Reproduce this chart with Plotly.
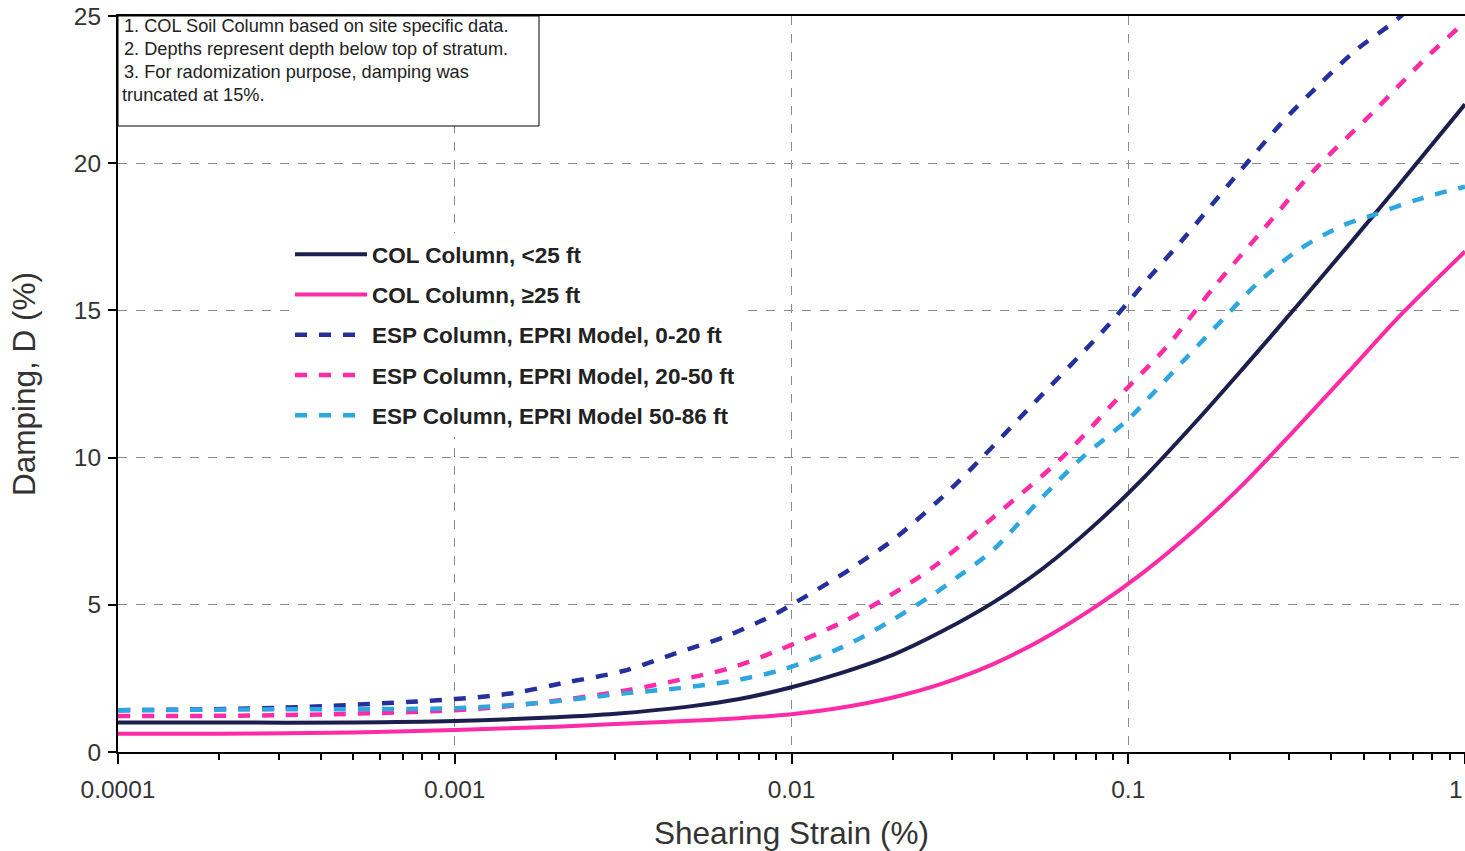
import plotly.graph_objects as go

# ---- data ----
col_lt25_strain = [1e-4, 2e-4, 5e-4, 1e-3, 2e-3, 3e-3, 5e-3, 7e-3, 0.01, 0.014, 0.02, 0.028, 0.04, 0.056,
                   0.08, 0.11, 0.16, 0.22, 0.31, 0.45, 0.63, 1.0]
col_lt25_damp   = [1.0, 1.0, 1.0, 1.05, 1.18, 1.3, 1.55, 1.8, 2.2, 2.68, 3.3, 4.1, 5.1, 6.25,
                   7.74, 9.26, 11.26, 13.05, 15.02, 17.2, 19.2, 22.0]

col_ge25_strain = [1e-4, 2e-4, 5e-4, 1e-3, 2e-3, 3e-3, 5e-3, 7e-3, 0.01, 0.014, 0.02, 0.028, 0.04, 0.056,
                   0.08, 0.11, 0.16, 0.22, 0.31, 0.45, 0.63, 1.0]
col_ge25_damp   = [0.62, 0.62, 0.66, 0.75, 0.86, 0.95, 1.06, 1.15, 1.28, 1.5, 1.85, 2.32, 3.0, 3.85,
                   4.94, 6.07, 7.62, 9.11, 10.9, 12.9, 14.73, 17.0]

esp020_strain = [1e-4, 3e-4, 1e-3, 1.49e-3, 2.09e-3, 3.16e-3, 4.55e-3, 6.42e-3, 8.82e-3, 0.0102, 0.0139, 0.0163,
                 0.02, 0.028, 0.0368, 0.05, 0.0865, 0.113, 0.145, 0.203, 0.287, 0.364, 0.47, 0.63, 1.0]
esp020_damp   = [1.42, 1.5, 1.8, 2.0, 2.34, 2.75, 3.36, 3.94, 4.65, 5.06, 5.98, 6.5,
                 7.2, 8.65, 10.0, 11.6, 14.45, 16.0, 17.4, 19.4, 21.4, 22.6, 23.8, 24.9, 27.0]

esp2050_strain = [1e-4, 3e-4, 1e-3, 1.75e-3, 3.26e-3, 4.65e-3, 6.57e-3, 9.2e-3, 0.0141, 0.0193, 0.0265,
                  0.04, 0.0636, 0.1, 0.13, 0.18, 0.254, 0.362, 0.53, 0.77, 1.0]
esp2050_damp   = [1.22, 1.25, 1.42, 1.66, 2.1, 2.45, 2.85, 3.47, 4.4, 5.27, 6.3,
                  8.0, 10.0, 12.4, 13.76, 15.8, 17.8, 19.84, 21.7, 23.6, 24.8]

esp5086_strain = [1e-4, 3e-4, 1e-3, 1.75e-3, 3.26e-3, 4.65e-3, 6.57e-3, 9.4e-3, 0.0142, 0.0195, 0.0267, 0.0316,
                  0.04, 0.055, 0.073, 0.1, 0.116, 0.149, 0.191, 0.241, 0.32, 0.437, 0.533, 0.74, 1.0]
esp5086_damp   = [1.42, 1.45, 1.49, 1.66, 2.0, 2.17, 2.4, 2.8, 3.57, 4.42, 5.4, 6.0,
                  6.9, 8.6, 10.0, 11.3, 12.07, 13.4, 14.7, 15.9, 17.05, 17.9, 18.24, 18.8, 19.2]

x_tick_vals = [1e-4, 1e-3, 1e-2, 1e-1, 1]
x_tick_text = ["0.0001", "0.001", "0.01", "0.1", ""]
x_last_label = "1"
y_tick_vals = [0, 5, 10, 15, 20, 25]
note_lines = [
    "1. COL Soil Column based on site specific data.",
    "2. Depths represent depth below top of stratum.",
    "3. For radomization purpose, damping was",
    "truncated at 15%.",
]

NAVY = "#1c1f4e"
PINK = "#ff2aa6"
BLUE = "#26309c"
LBLUE = "#2ea6e0"

series = [
    ("COL Column, <25 ft", col_lt25_strain, col_lt25_damp, NAVY, "solid"),
    ("COL Column, \u226525 ft", col_ge25_strain, col_ge25_damp, PINK, "solid"),
    ("ESP Column, EPRI Model, 0-20 ft", esp020_strain, esp020_damp, BLUE, "12px,12px"),
    ("ESP Column, EPRI Model, 20-50 ft", esp2050_strain, esp2050_damp, PINK, "12px,12px"),
    ("ESP Column, EPRI Model 50-86 ft", esp5086_strain, esp5086_damp, LBLUE, "12px,12px"),
]

fig = go.Figure()
for i, (name, xs, ys, col, dash) in enumerate(series):
    fig.add_trace(go.Scatter(
        x=xs, y=ys, name=name, mode="lines",
        line=dict(color=col, width=4 if dash == "solid" else 4.5, dash=dash, shape="spline", smoothing=0.9),
        legendgroup=f"g{i}",
    ))

minor_vals = []
for d in [1e-4, 1e-3, 1e-2, 1e-1]:
    for k in range(2, 10):
        minor_vals.append(d * k)

fig.update_layout(
    width=1465, height=851,
    margin=dict(l=118, r=0, t=16, b=99),
    plot_bgcolor="white", paper_bgcolor="white",
    font=dict(family="Arial, Liberation Sans, sans-serif", color="#333333"),
    showlegend=True,
    legend=dict(
        x=(290 - 118) / 1347, y=(752 - 233) / 736, xanchor="left", yanchor="top",
        bgcolor="white", borderwidth=0,
        font=dict(size=22.5, color="#222222", family="Arial, Liberation Sans, sans-serif", weight="bold"),
        tracegroupgap=8, traceorder="grouped",
        itemwidth=72,
    ),
    xaxis=dict(
        type="log", range=[-4, 0], automargin=False,
        tickvals=x_tick_vals, ticktext=x_tick_text,
        tickfont=dict(size=24.5, color="#333333"),
        ticklabelstandoff=5,
        ticks="outside", ticklen=10, tickwidth=2, tickcolor="black",
        showline=True, linecolor="black", linewidth=2, mirror=True,
        showgrid=True, gridcolor="#8a8a8a", gridwidth=1, griddash="dash",
        minor=dict(tickvals=minor_vals, ticks="outside", ticklen=6, tickwidth=2, tickcolor="black", showgrid=False),
        title=dict(text="Shearing Strain (%)", font=dict(size=31.5, color="#333333"), standoff=22),
        zeroline=False,
    ),
    yaxis=dict(
        range=[0, 25], automargin=False,
        tickvals=y_tick_vals,
        tickfont=dict(size=24.5, color="#333333"),
        ticklabelstandoff=2,
        ticks="outside", ticklen=8, tickwidth=2, tickcolor="black",
        showline=True, linecolor="black", linewidth=2, mirror=True,
        showgrid=True, gridcolor="#8a8a8a", gridwidth=1, griddash="dash",
        title=dict(text="Damping, D (%)", font=dict(size=31.5, color="#333333"), standoff=29),
        zeroline=False,
    ),
)

# last x tick label, kept inside the page
fig.add_annotation(xref="paper", yref="paper", x=1, y=(752 - 789) / 736,
                   xanchor="right", yanchor="middle", text=x_last_label, showarrow=False,
                   font=dict(size=24.5, color="#333333"))

# note box
fig.add_shape(type="rect", xref="paper", yref="paper",
              x0=0, x1=(539 - 118) / 1347, y0=(752 - 126) / 736, y1=1,
              line=dict(color="black", width=1), fillcolor="white", layer="above")
for j, t in enumerate(note_lines):
    ypix = 26 + 23 * j
    fig.add_annotation(xref="paper", yref="paper", x=0, y=(752 - ypix) / 736,
                       xanchor="left", yanchor="middle", xshift=4 if j < 3 else 2,
                       text=t, showarrow=False,
                       font=dict(size=18.2, color="#222222", family="Arial, Liberation Sans, sans-serif"))

fig.write_html("out.html", config={"displayModeBar": False},
               post_script="document.body.style.margin='0';document.body.style.overflow='hidden';")
